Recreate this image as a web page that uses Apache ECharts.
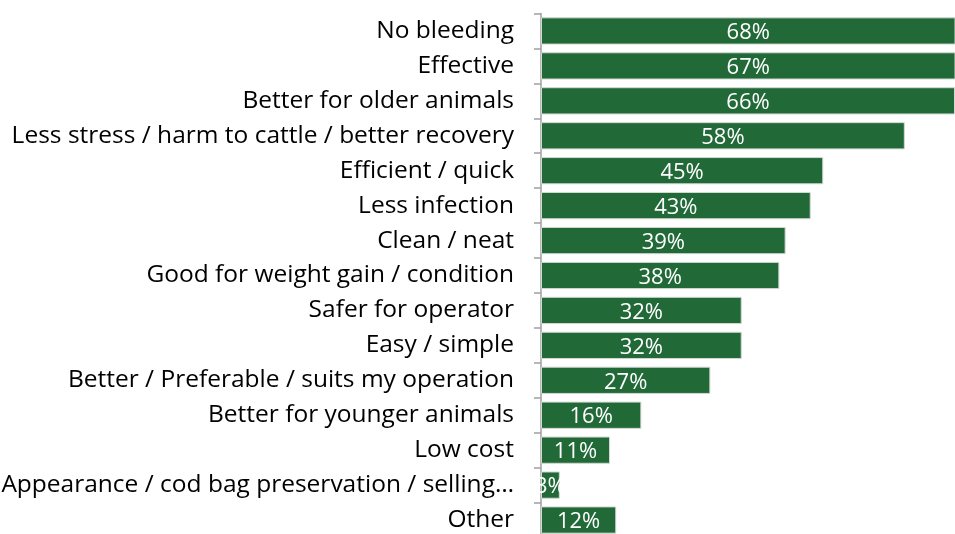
<!DOCTYPE html>
<html>
<head>
<meta charset="utf-8">
<script src="https://cdn.jsdelivr.net/npm/echarts@6/dist/echarts.min.js"></script>
<style>
  html, body { margin: 0; padding: 0; background: #ffffff; }
  #chart { width: 955px; height: 534px; }
</style>
</head>
<body>
<div id="chart"></div>
<script>
// Reasons given for preferring the method (% of respondents)
const categories = [
  'No bleeding',
  'Effective',
  'Better for older animals',
  'Less stress / harm to cattle / better recovery',
  'Efficient / quick',
  'Less infection',
  'Clean / neat',
  'Good for weight gain / condition',
  'Safer for operator',
  'Easy / simple',
  'Better / Preferable / suits my operation',
  'Better for younger animals',
  'Low cost',
  'Appearance / cod bag preservation / selling…',
  'Other'
];
const values = [68, 67, 66, 58, 45, 43, 39, 38, 32, 32, 27, 16, 11, 3, 12];
const axisMax = 66;

const chart = echarts.init(document.getElementById('chart'), null, { renderer: 'canvas' });
chart.setOption({
  animation: false,
  grid: {
    left: 541, right: 0, top: 13.5, bottom: -3.5,
    containLabel: false,
    outerBoundsMode: 'none'
  },
  xAxis: {
    type: 'value',
    min: 0,
    max: axisMax,
    show: false
  },
  yAxis: {
    type: 'category',
    data: categories,
    inverse: true,
    axisLine: { show: true, lineStyle: { color: '#a0a0a0', width: 1.5 } },
    axisTick: { show: true, length: 7, lineStyle: { color: '#a0a0a0', width: 1.5 } },
    axisLabel: {
      margin: 27,
      color: '#000000',
      fontFamily: 'Open Sans',
      fontSize: 24.5,
      padding: [3, 0, 0, 0]
    }
  },
  series: [{
    type: 'bar',
    data: values,
    barCategoryGap: '22%',
    clip: true,
    itemStyle: { color: '#216a38', borderColor: '#d4d8d5', borderWidth: 1 },
    label: {
      show: true,
      position: 'inside',
      offset: [0, 2],
      formatter: '{c}%',
      color: '#ffffff',
      fontFamily: 'Open Sans',
      fontSize: 22
    }
  }]
});
</script>
</body>
</html>
